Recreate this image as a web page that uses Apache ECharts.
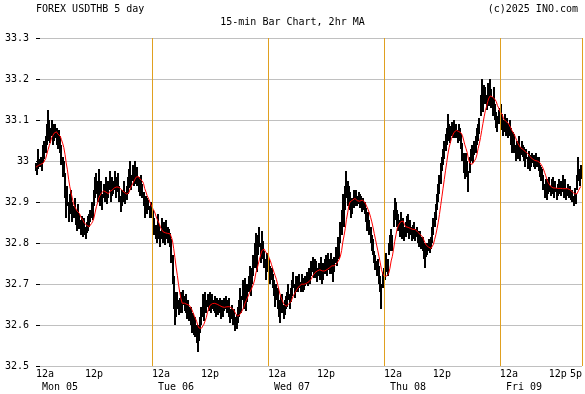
<!DOCTYPE html>
<html>
<head>
<meta charset="utf-8">
<script src="https://cdn.jsdelivr.net/npm/echarts@6/dist/echarts.min.js"></script>
<style>
html,body{margin:0;padding:0;background:#fff;}
#c{width:585px;height:394px;}
</style>
</head>
<body>
<div id="c"></div>
<script>
// ---- Data (15-minute bars: [low, high]) ----
const dayLabels = ['Mon 05', 'Tue 06', 'Wed 07', 'Thu 08', 'Fri 09'];
const midLabels = ['12p', '12p', '12p', '12p', '12p'];
const endLabel = '5p';
const dayStartHours = [0, 24, 48, 72, 96];
const noonHours = [12, 36, 60, 84, 108];
const endHour = 113;
const yTicks = [32.5, 32.6, 32.7, 32.8, 32.9, 33.0, 33.1, 33.2, 33.3];

const mon = [
[32.975,32.995],[32.965,32.99],[32.98,33.03],[32.985,33.005],
[32.985,33.01],[32.975,33.0],[32.995,33.04],[33.005,33.05],
[33.02,33.06],[33.04,33.09],[33.06,33.125],[33.05,33.1],
[33.045,33.08],[33.06,33.1],[33.04,33.075],[33.05,33.09],
[33.055,33.09],[33.04,33.08],[33.03,33.07],[33.04,33.075],
[33.02,33.06],[32.99,33.04],[32.96,33.01],[32.97,33.0],
[32.91,32.97],[32.86,32.92],[32.89,32.94],[32.85,32.9],
[32.87,32.92],[32.88,32.93],[32.85,32.9],[32.86,32.89],
[32.86,32.91],[32.845,32.88],[32.83,32.87],[32.85,32.895],
[32.835,32.87],[32.82,32.855],[32.83,32.865],[32.815,32.845],
[32.82,32.86],[32.81,32.84],[32.825,32.85],[32.83,32.865],
[32.84,32.87],[32.85,32.88],[32.86,32.9],[32.855,32.89],
[32.89,32.93],[32.91,32.96],[32.92,32.97],[32.9,32.95],
[32.92,32.98],[32.89,32.93],[32.9,32.95],[32.88,32.92],
[32.91,32.945],[32.9,32.93],[32.92,32.96],[32.895,32.93],
[32.91,32.95],[32.93,32.975],[32.9,32.935],[32.915,32.96],
[32.92,32.95],[32.93,32.975],[32.91,32.945],[32.925,32.96],
[32.93,32.97],[32.9,32.94],[32.875,32.915],[32.89,32.93],
[32.9,32.93],[32.915,32.95],[32.895,32.925],[32.905,32.94],
[32.92,32.96],[32.935,32.98],[32.95,33.0],[32.93,32.965],
[32.95,32.99],[32.94,32.97],[32.96,33.0],[32.945,32.98],
[32.94,32.985],[32.925,32.96],[32.915,32.95],[32.93,32.965],
[32.91,32.945],[32.89,32.925],[32.86,32.9],[32.88,32.915],
[32.87,32.91],[32.88,32.905],[32.86,32.89],[32.87,32.9]
];
const tue = [
[32.86,32.895],[32.84,32.88],[32.82,32.86],[32.81,32.845],
[32.8,32.84],[32.82,32.87],[32.81,32.845],[32.79,32.83],
[32.81,32.86],[32.8,32.835],[32.815,32.85],[32.795,32.83],
[32.81,32.855],[32.8,32.84],[32.805,32.835],[32.79,32.825],
[32.75,32.81],[32.7,32.77],[32.64,32.72],[32.6,32.68],
[32.62,32.675],[32.64,32.68],[32.625,32.66],[32.63,32.665],
[32.64,32.68],[32.63,32.665],[32.65,32.685],[32.635,32.67],
[32.63,32.675],[32.615,32.65],[32.625,32.66],[32.61,32.645],
[32.6,32.645],[32.58,32.625],[32.59,32.63],[32.575,32.61],
[32.57,32.62],[32.555,32.6],[32.535,32.585],[32.56,32.6],
[32.58,32.62],[32.6,32.645],[32.62,32.675],[32.61,32.655],
[32.64,32.68],[32.63,32.66],[32.645,32.675],[32.635,32.67],
[32.645,32.68],[32.63,32.665],[32.64,32.675],[32.635,32.66],
[32.63,32.67],[32.62,32.65],[32.64,32.665],[32.625,32.66],
[32.63,32.665],[32.615,32.65],[32.635,32.66],[32.62,32.655],
[32.635,32.665],[32.64,32.67],[32.63,32.655],[32.64,32.66],
[32.62,32.665],[32.605,32.64],[32.615,32.65],[32.6,32.635],
[32.6,32.64],[32.585,32.62],[32.59,32.625],[32.605,32.645],
[32.62,32.66],[32.64,32.69],[32.63,32.67],[32.66,32.71],
[32.64,32.69],[32.66,32.715],[32.635,32.68],[32.655,32.7],
[32.68,32.72],[32.695,32.745],[32.67,32.71],[32.7,32.74],
[32.72,32.77],[32.74,32.8],[32.76,32.825],[32.73,32.78],
[32.77,32.82],[32.79,32.84],[32.75,32.8],[32.78,32.83],
[32.76,32.805],[32.74,32.78],[32.71,32.76],[32.73,32.775]
];
const wed = [
[32.74,32.775],[32.72,32.76],[32.7,32.745],[32.71,32.74],
[32.69,32.725],[32.67,32.71],[32.645,32.69],[32.66,32.7],
[32.64,32.69],[32.62,32.66],[32.605,32.65],[32.63,32.67],
[32.63,32.675],[32.615,32.65],[32.625,32.66],[32.64,32.67],
[32.645,32.68],[32.66,32.7],[32.64,32.675],[32.655,32.69],
[32.67,32.71],[32.69,32.73],[32.665,32.7],[32.68,32.72],
[32.685,32.72],[32.68,32.71],[32.69,32.725],[32.68,32.705],
[32.69,32.725],[32.68,32.7],[32.685,32.715],[32.695,32.72],
[32.7,32.73],[32.695,32.72],[32.71,32.74],[32.7,32.735],
[32.72,32.755],[32.73,32.765],[32.715,32.745],[32.725,32.76],
[32.715,32.755],[32.705,32.74],[32.72,32.75],[32.71,32.745],
[32.72,32.765],[32.7,32.74],[32.71,32.75],[32.725,32.76],
[32.73,32.77],[32.72,32.75],[32.735,32.775],[32.725,32.76],
[32.74,32.775],[32.725,32.76],[32.705,32.745],[32.73,32.765],
[32.75,32.79],[32.745,32.78],[32.77,32.815],[32.76,32.8],
[32.8,32.85],[32.82,32.88],[32.86,32.92],[32.84,32.9],
[32.88,32.94],[32.91,32.975],[32.89,32.95],[32.9,32.94],
[32.88,32.925],[32.86,32.9],[32.87,32.91],[32.885,32.93],
[32.89,32.925],[32.9,32.93],[32.89,32.915],[32.895,32.925],
[32.885,32.92],[32.89,32.915],[32.875,32.905],[32.88,32.91],
[32.87,32.9],[32.85,32.885],[32.83,32.87],[32.84,32.875],
[32.82,32.855],[32.8,32.84],[32.78,32.82],[32.77,32.81],
[32.75,32.78],[32.735,32.77],[32.72,32.755],[32.73,32.76],
[32.7,32.745],[32.68,32.72],[32.64,32.7],[32.69,32.73]
];
const thu = [
[32.7,32.74],[32.71,32.75],[32.73,32.775],[32.72,32.76],
[32.77,32.8],[32.78,32.82],[32.79,32.835],[32.78,32.82],
[32.84,32.88],[32.86,32.91],[32.855,32.9],[32.84,32.88],
[32.83,32.87],[32.815,32.855],[32.825,32.875],[32.81,32.85],
[32.82,32.86],[32.805,32.84],[32.815,32.85],[32.825,32.865],
[32.83,32.87],[32.81,32.845],[32.82,32.855],[32.805,32.84],
[32.81,32.845],[32.82,32.85],[32.805,32.835],[32.815,32.84],
[32.8,32.83],[32.79,32.82],[32.805,32.83],[32.785,32.815],
[32.78,32.815],[32.76,32.8],[32.74,32.785],[32.765,32.8],
[32.77,32.8],[32.78,32.81],[32.775,32.805],[32.785,32.815],
[32.8,32.84],[32.82,32.86],[32.84,32.875],[32.855,32.895],
[32.88,32.92],[32.9,32.945],[32.92,32.965],[32.945,32.995],
[32.975,33.01],[32.99,33.03],[33.005,33.05],[33.025,33.065],
[33.04,33.08],[33.06,33.115],[33.05,33.09],[33.045,33.085],
[33.06,33.095],[33.055,33.085],[33.065,33.1],[33.055,33.09],
[33.055,33.09],[33.045,33.075],[33.06,33.09],[33.05,33.08],
[33.03,33.065],[33.0,33.045],[32.97,33.02],[32.955,33.0],
[32.98,33.02],[32.96,33.0],[32.925,32.975],[32.97,33.01],
[33.0,33.03],[33.01,33.04],[32.995,33.025],[33.015,33.05],
[33.02,33.06],[33.04,33.08],[33.05,33.09],[33.065,33.105],
[33.11,33.16],[33.13,33.2],[33.12,33.17],[33.14,33.185],
[33.14,33.18],[33.125,33.16],[33.145,33.19],[33.135,33.17],
[33.15,33.2],[33.13,33.175],[33.11,33.155],[33.14,33.18],
[33.1,33.14],[33.08,33.12],[33.07,33.11],[33.09,33.125]
];
const fri = [
[33.09,33.13],[33.1,33.14],[33.075,33.115],[33.06,33.1],
[33.07,33.115],[33.06,33.095],[33.075,33.105],[33.055,33.09],
[33.06,33.1],[33.04,33.08],[33.02,33.06],[33.035,33.07],
[33.02,33.065],[33.0,33.04],[33.01,33.05],[33.005,33.035],
[33.02,33.06],[33.0,33.035],[33.015,33.05],[33.01,33.04],
[33.0,33.035],[32.985,33.02],[33.005,33.03],[32.98,33.01],
[32.99,33.025],[32.975,33.005],[32.985,33.015],[32.995,33.02],
[32.985,33.015],[32.98,33.005],[32.99,33.02],[32.985,33.01],
[32.975,33.01],[32.96,32.99],[32.95,32.985],[32.955,32.98],
[32.93,32.965],[32.91,32.945],[32.92,32.955],[32.905,32.935],
[32.92,32.955],[32.925,32.96],[32.915,32.94],[32.93,32.955],
[32.92,32.96],[32.91,32.94],[32.925,32.95],[32.905,32.935],
[32.915,32.945],[32.925,32.955],[32.92,32.94],[32.915,32.95],
[32.925,32.965],[32.91,32.94],[32.92,32.955],[32.905,32.935],
[32.915,32.945],[32.91,32.935],[32.92,32.94],[32.905,32.93],
[32.9,32.93],[32.89,32.915],[32.905,32.935],[32.895,32.92],
[32.93,32.965],[32.95,33.01],[32.94,32.98],[32.955,32.99]
];

// ---- Build series ----
const bars = [].concat(mon, tue, wed, thu, fri);
const barData = bars.map((b, i) => [i / 4, b[0], b[1]]);
const maWindow = 8; // 2hr MA of 15-min bars
const maData = bars.map((b, i) => {
  const s = Math.max(0, i - maWindow + 1);
  let sum = 0;
  for (let k = s; k <= i; k++) sum += (bars[k][0] + bars[k][1]) / 2;
  return [i / 4, sum / (i - s + 1)];
});

const FONT = 'DejaVu Sans Mono';
const txt = {fontFamily: FONT, fontSize: 10, color: '#000', fontWeight: 'normal'};
const GOLD = '#E0A020';
const GRID = '#C0C0C0';

function baseX(extra) {
  return Object.assign({
    type: 'value', min: 0, max: endHour, gridIndex: 0, position: 'bottom',
    axisLine: {show: false}, axisTick: {show: false}, splitLine: {show: false}
  }, extra);
}

const chart = echarts.init(document.getElementById('c'), null, {renderer: 'canvas'});
chart.setOption({
  animation: false,
  backgroundColor: '#fff',
  title: [
    {text: 'FOREX USDTHB 5 day', left: 36, top: 4, padding: 0, textStyle: txt},
    {text: '15-min Bar Chart, 2hr MA', left: 'center', top: 17, padding: 0, textStyle: txt},
    {text: '(c)2025 INO.com', right: 7, top: 4, padding: 0, textStyle: txt}
  ],
  grid: {left: 36, right: 3, top: 38, bottom: 27, containLabel: false},
  xAxis: [
    baseX({
      axisLabel: Object.assign({}, txt, {
        customValues: dayStartHours, align: 'left', margin: 2, lineHeight: 13,
        verticalAlign: 'top',
        formatter: v => '12a\n ' + dayLabels[dayStartHours.indexOf(v)]
      })
    }),
    baseX({
      axisLabel: Object.assign({}, txt, {
        customValues: noonHours, align: 'center', margin: 2, lineHeight: 13,
        verticalAlign: 'top',
        formatter: v => midLabels[noonHours.indexOf(v)]
      })
    }),
    baseX({
      axisLabel: Object.assign({}, txt, {
        customValues: [endHour], align: 'right', margin: 2, lineHeight: 13,
        verticalAlign: 'top', showMaxLabel: true,
        formatter: () => endLabel
      })
    })
  ],
  yAxis: [
    {
      type: 'value', min: yTicks[0], max: yTicks[yTicks.length - 1], interval: 0.1,
      position: 'left',
      axisLine: {show: false},
      axisTick: {show: true, inside: true, length: 4, lineStyle: {color: '#000', width: 1}},
      axisLabel: Object.assign({}, txt, {margin: 7, formatter: v => String(+v.toFixed(1))}),
      splitLine: {show: true, lineStyle: {color: GRID, width: 1}}
    },
    {
      type: 'value', min: yTicks[0], max: yTicks[yTicks.length - 1], interval: 0.1,
      position: 'right',
      axisLine: {show: false},
      axisTick: {show: true, inside: false, length: 3, lineStyle: {color: '#000', width: 1}},
      axisLabel: {show: false},
      splitLine: {show: false}
    }
  ],
  series: [
    {
      type: 'custom',
      xAxisIndex: 0, yAxisIndex: 0,
      data: barData,
      encode: {x: 0, y: [1, 2]},
      z: 2,
      renderItem: function (params, api) {
        const p1 = api.coord([api.value(0), api.value(1)]);
        const p2 = api.coord([api.value(0), api.value(2)]);
        const x = Math.round(p1[0]);
        return {
          type: 'line',
          shape: {x1: x, y1: Math.round(p1[1]), x2: x, y2: Math.round(p2[1])},
          style: {stroke: '#000', lineWidth: 2}
        };
      }
    },
    {
      type: 'line',
      xAxisIndex: 0, yAxisIndex: 0,
      data: maData,
      showSymbol: false,
      z: 3,
      lineStyle: {color: '#FF0000', width: 1},
      itemStyle: {color: '#FF0000'},
      markLine: {
        silent: true,
        symbol: ['none', 'none'],
        label: {show: false},
        lineStyle: {color: GOLD, width: 1, type: 'solid'},
        data: dayStartHours.slice(1).concat([endHour]).map(h => ({xAxis: h}))
      }
    }
  ]
});
</script>
</body>
</html>
